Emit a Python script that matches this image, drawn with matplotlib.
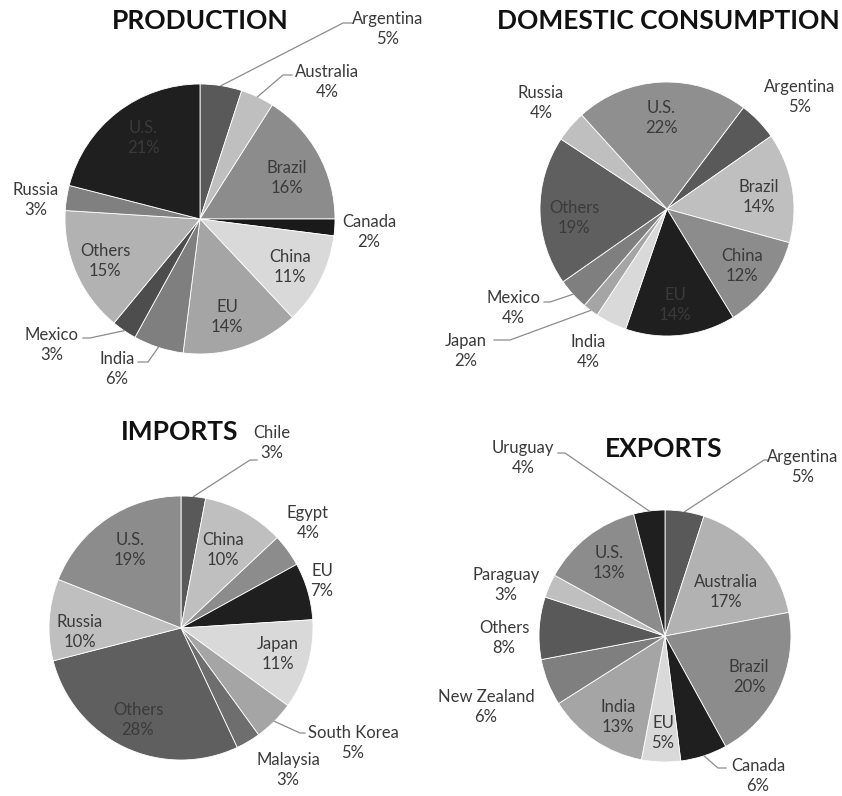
import numpy as np
import matplotlib.pyplot as plt

plt.rcParams['font.family'] = ['Lato', 'DejaVu Sans']

W, H = 842, 796

# shares in percent, clockwise from the first slice
prod_names = ['Argentina', 'Australia', 'Brazil', 'Canada', 'China', 'EU',
              'India', 'Mexico', 'Others', 'Russia', 'U.S.']
prod_shares = [5, 4, 16, 2, 11, 14, 6, 3, 15, 3, 21]

cons_names = ['Argentina', 'Brazil', 'China', 'EU', 'India', 'Japan',
              'Mexico', 'Others', 'Russia', 'U.S.']
cons_shares = [5, 14, 12, 14, 4, 2, 4, 19, 4, 22]

imp_names = ['Chile', 'China', 'Egypt', 'EU', 'Japan', 'South Korea',
             'Malaysia', 'Others', 'Russia', 'U.S.']
imp_shares = [3, 10, 4, 7, 11, 5, 3, 28, 10, 19]

exp_names = ['Argentina', 'Australia', 'Brazil', 'Canada', 'EU', 'India',
             'New Zealand', 'Others', 'Paraguay', 'U.S.', 'Uruguay']
exp_shares = [5, 17, 20, 6, 5, 13, 6, 8, 3, 13, 4]

# grey shades per slice
prod_colors = ['#595959', '#bfbfbf', '#8c8c8c', '#1a1a1a', '#d9d9d9', '#a5a5a5',
               '#7f7f7f', '#4d4d4d', '#b2b2b2', '#808080', '#1f1f1f']
cons_colors = ['#595959', '#bfbfbf', '#8c8c8c', '#1f1f1f', '#d9d9d9', '#a5a5a5',
               '#7f7f7f', '#5f5f5f', '#bfbfbf', '#8f8f8f']
imp_colors = ['#595959', '#bfbfbf', '#8c8c8c', '#1f1f1f', '#d9d9d9', '#a5a5a5',
              '#6e6e6e', '#5f5f5f', '#bfbfbf', '#8c8c8c']
exp_colors = ['#595959', '#b2b2b2', '#8c8c8c', '#1f1f1f', '#d9d9d9', '#a5a5a5',
              '#7f7f7f', '#595959', '#bfbfbf', '#8c8c8c', '#1f1f1f']

# label layout in pixels (x, y from top), optional leader (elbow x, elbow y, end x)
prod_lab = {
    'Argentina': (388, 29, (343, 23, 352)), 'Australia': (327, 82, (283, 75, 292)),
    'Brazil': (287, 178, None), 'Canada': (369, 232, None), 'China': (290, 267, None),
    'EU': (227, 317, None), 'India': (117, 369, (148, 362, 138)),
    'Mexico': (52, 345, (90, 338, 83)), 'Others': (105, 261, None),
    'Russia': (36, 200, None), 'U.S.': (143, 138, None)}
cons_lab = {
    'Argentina': (800, 97, None), 'Brazil': (759, 197, None), 'China': (742, 266, None),
    'EU': (675, 305, None), 'India': (588, 352, None), 'Japan': (466, 351, (510, 340, 494)),
    'Mexico': (513, 308, (550, 302, 544)), 'Others': (574, 218, None),
    'Russia': (541, 103, None), 'U.S.': (661, 118, None)}
imp_lab = {
    'Chile': (272, 443, (250, 460, 257)), 'China': (223, 550, None), 'Egypt': (308, 523, None),
    'EU': (322, 581, None), 'Japan': (278, 654, None),
    'South Korea': (353, 743, (300, 733, 305)), 'Malaysia': (288, 770, None),
    'Others': (138, 720, None), 'Russia': (80, 632, None), 'U.S.': (130, 550, None)}
exp_lab = {
    'Argentina': (803, 467, (764, 460, 768)), 'Australia': (726, 592, None),
    'Brazil': (749, 677, None), 'Canada': (758, 776, (718, 768, 726)),
    'EU': (663, 733, None), 'India': (618, 717, None), 'New Zealand': (486, 707, None),
    'Others': (504, 638, None), 'Paraguay': (506, 585, None), 'U.S.': (609, 563, None),
    'Uruguay': (523, 458, (565, 453, 558))}

TXT = '#3a3a3a'


def draw_pie(ax, names, shares, colors, center, radius, start, title, title_xy, labels):
    wedges, _ = ax.pie(shares, colors=colors, startangle=start, counterclock=False,
                       center=(center[0], H - center[1]), radius=radius,
                       wedgeprops=dict(edgecolor='white', linewidth=0.6))
    ax.text(title_xy[0], H - title_xy[1], title, ha='center', va='center',
            fontsize=19, fontweight='bold', color='#111111')
    for w, name, share in zip(wedges, names, shares):
        tx, ty, lead = labels[name]
        ax.text(tx, H - ty, '%s\n%d%%' % (name, share), ha='center', va='center',
                fontsize=12, color=TXT, linespacing=1.25)
        if lead:
            ang = np.deg2rad((w.theta1 + w.theta2) / 2)
            x0 = w.center[0] + w.r * np.cos(ang)
            y0 = w.center[1] + w.r * np.sin(ang)
            ex, ey, hx = lead
            ax.plot([x0, ex, hx], [y0, H - ey, H - ey], color='#8c8c8c', lw=0.9)


fig = plt.figure(figsize=(W / 100, H / 100), dpi=100)
ax = fig.add_axes([0, 0, 1, 1])

draw_pie(ax, prod_names, prod_shares, prod_colors, (200, 219), 135, 90,
         'PRODUCTION', (200, 21), prod_lab)
draw_pie(ax, cons_names, cons_shares, cons_colors, (667, 209), 127, 53,
         'DOMESTIC CONSUMPTION', (668, 21), cons_lab)
draw_pie(ax, imp_names, imp_shares, imp_colors, (181, 628), 132, 90,
         'IMPORTS', (180, 432), imp_lab)
draw_pie(ax, exp_names, exp_shares, exp_colors, (665, 636), 126, 90,
         'EXPORTS', (664, 449), exp_lab)

ax.set_xlim(0, W)
ax.set_ylim(0, H)
ax.set_aspect('equal')
ax.axis('off')

fig.savefig('out.png', dpi=100, facecolor='white')
